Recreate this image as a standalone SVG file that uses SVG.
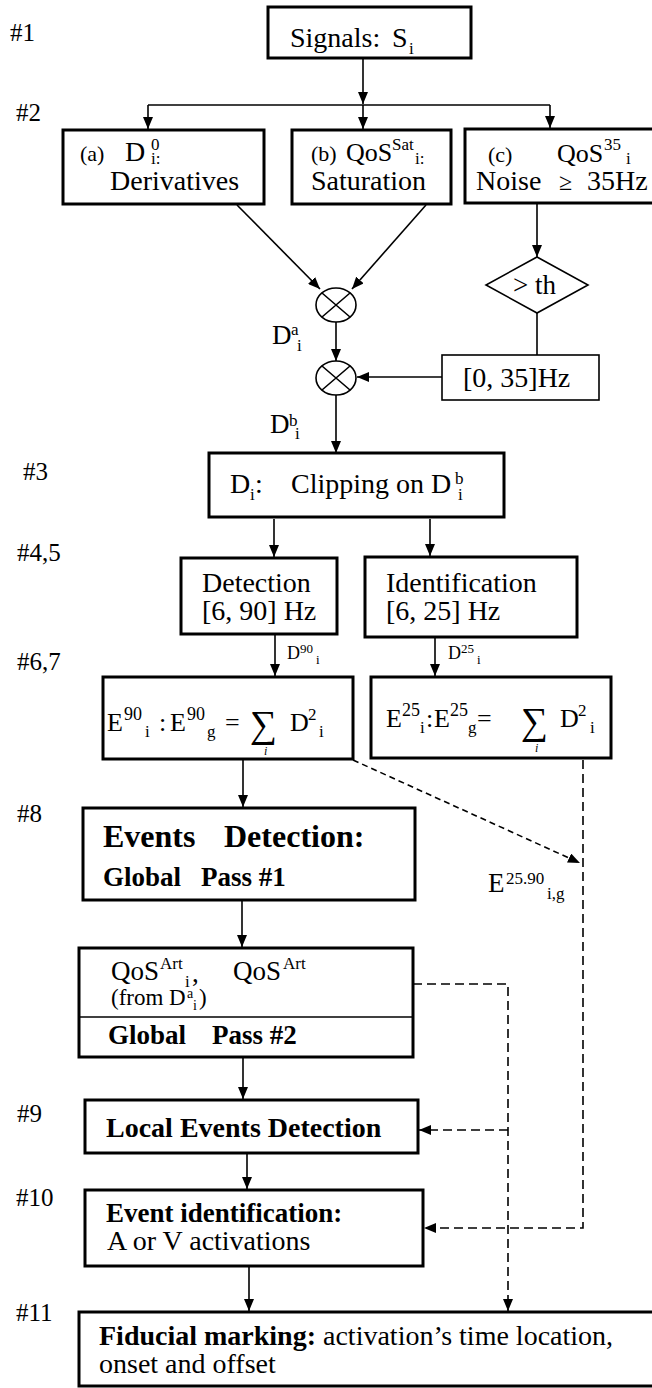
<svg xmlns="http://www.w3.org/2000/svg" width="652" height="1388" viewBox="0 0 652 1388">
<style>
text{font-family:"Liberation Serif","Times New Roman",serif;fill:#000}
.t{font-size:28px}
.lbl{font-size:25px}
.b{font-weight:bold}
.sm{font-size:17px}
.xs{font-size:13px}
.eq{font-size:26px}
.box{fill:#fff;stroke:#000;stroke-width:3}
.thin{fill:#fff;stroke:#000;stroke-width:1.6}
.ln{fill:none;stroke:#000;stroke-width:1.6}
.dash{fill:none;stroke:#000;stroke-width:1.6;stroke-dasharray:9 5}
.dash2{fill:none;stroke:#000;stroke-width:1.6;stroke-dasharray:6 4}
</style>
<defs>
<marker id="ah" viewBox="0 0 12 10" refX="12" refY="5" markerWidth="12" markerHeight="10" markerUnits="userSpaceOnUse" orient="auto"><path d="M0,0 L12,5 L0,10 z" fill="#000"/></marker>
</defs>
<rect width="652" height="1388" fill="#fff"/>

<g id="step-labels" class="lbl">
<text x="10" y="41">#1</text>
<text x="16" y="121">#2</text>
<text x="23" y="480">#3</text>
<text x="17" y="561">#4,5</text>
<text x="17" y="670">#6,7</text>
<text x="17" y="822">#8</text>
<text x="17" y="1122">#9</text>
<text x="16" y="1206">#10</text>
<text x="16" y="1321">#11</text>
</g>

<g id="connectors">
<path class="ln" d="M363,58 V104" marker-end="url(#ah)"/>
<path class="ln" d="M148,105 H550"/>
<path class="ln" d="M148,105 V129" marker-end="url(#ah)"/>
<path class="ln" d="M363,105 V129" marker-end="url(#ah)"/>
<path class="ln" d="M550,105 V128" marker-end="url(#ah)"/>
<path class="ln" d="M237,205 L320,289" marker-end="url(#ah)"/>
<path class="ln" d="M426,205 L352,289" marker-end="url(#ah)"/>
<path class="ln" d="M336,322 V361" marker-end="url(#ah)"/>
<path class="ln" d="M442,377 H357" marker-end="url(#ah)"/>
<path class="ln" d="M336,395 V453" marker-end="url(#ah)"/>
<path class="ln" d="M537,204 V257" marker-end="url(#ah)"/>
<path class="ln" d="M537,313 V355"/>
<path class="ln" d="M274,519 V557" marker-end="url(#ah)"/>
<path class="ln" d="M430,519 V556" marker-end="url(#ah)"/>
<path class="ln" d="M275,635 V676" marker-end="url(#ah)"/>
<path class="ln" d="M435,638 V676" marker-end="url(#ah)"/>
<path class="ln" d="M243,760 V807" marker-end="url(#ah)"/>
<path class="dash2" d="M353,760 L580,863" marker-end="url(#ah)"/>
<path class="dash" d="M583,760 V1228 H424" marker-end="url(#ah)"/>
<path class="ln" d="M242,901 V947" marker-end="url(#ah)"/>
<path class="dash" d="M413,984 H508 V1311" marker-end="url(#ah)"/>
<path class="dash" d="M508,1130 H419" marker-end="url(#ah)"/>
<path class="ln" d="M243,1058 V1099" marker-end="url(#ah)"/>
<path class="ln" d="M247,1154 V1189" marker-end="url(#ah)"/>
<path class="ln" d="M249,1267 V1311" marker-end="url(#ah)"/>
</g>

<g id="edge-labels">
<text x="272" y="344" style="font-size:27px">D<tspan class="sm" x="291" y="335">a</tspan><tspan class="sm" x="297" y="351">i</tspan></text>
<text x="270" y="433" style="font-size:27px">D<tspan class="sm" x="289" y="426">b</tspan><tspan class="sm" x="295" y="439">i</tspan></text>
<text x="287" y="659" style="font-size:18px">D<tspan class="xs" x="300" y="653">90</tspan><tspan class="xs" x="316" y="664">i</tspan></text>
<text x="448" y="659" style="font-size:18px">D<tspan class="xs" x="461" y="653">25</tspan><tspan class="xs" x="477" y="664">i</tspan></text>
<text x="488" y="892" style="font-size:27px">E<tspan class="sm" x="506" y="884">25.90</tspan><tspan class="sm" x="547" y="899">i,g</tspan></text>
</g>

<g id="n-signals">
<rect class="box" x="268" y="7" width="203" height="51"/>
<text class="t" x="290" y="47">Signals:<tspan x="392">S</tspan><tspan class="sm" x="409" y="54">i</tspan></text>
</g>

<g id="n-derivatives">
<rect class="box" x="63" y="130" width="201" height="74"/>
<text x="80" y="161" style="font-size:22px">(a)</text>
<text class="t" x="125" y="161">D<tspan class="sm" x="151" y="150">0</tspan><tspan class="sm" x="151" y="164">i:</tspan></text>
<text class="t" x="110" y="190">Derivatives</text>
</g>

<g id="n-saturation">
<rect class="box" x="292" y="130" width="159" height="74"/>
<text x="311" y="161" style="font-size:22px">(b)</text>
<text x="346" y="161" style="font-size:26px">QoS<tspan class="sm" x="392" y="150">Sat</tspan><tspan class="sm" x="415" y="164">i:</tspan></text>
<text class="t" x="311" y="190">Saturation</text>
</g>

<g id="n-noise">
<rect class="box" x="465" y="129" width="200" height="74"/>
<text x="488" y="162" style="font-size:22px">(c)</text>
<text x="557" y="162" style="font-size:26px">QoS<tspan class="sm" x="604" y="150">35</tspan><tspan class="sm" x="626" y="164">i</tspan></text>
<text class="t" x="476" y="190">Noise<tspan x="559" style="font-size:24px">≥</tspan><tspan x="587">35Hz</tspan></text>
</g>

<g id="n-mult1">
<ellipse cx="336" cy="305" rx="20" ry="17" fill="#fff" stroke="#000" stroke-width="1.6"/>
<path class="ln" d="M322,293 L350,317 M350,293 L322,317"/>
</g>

<g id="n-mult2">
<ellipse cx="336" cy="378" rx="20" ry="17" fill="#fff" stroke="#000" stroke-width="1.6"/>
<path class="ln" d="M322,366 L350,390 M350,366 L322,390"/>
</g>

<g id="n-threshold">
<polygon class="thin" points="537,257 588,285 537,313 486,285"/>
<text x="513" y="294" style="font-size:27px">&gt; th</text>
</g>

<g id="n-lowpass">
<rect class="thin" x="442" y="355" width="157" height="45"/>
<text class="t" x="463" y="387">[0, 35]Hz</text>
</g>

<g id="n-clipping">
<rect class="box" x="209" y="453" width="295" height="64"/>
<text class="t" x="230" y="493">D<tspan class="sm" x="250" y="500">i</tspan><tspan x="255" y="493">:</tspan><tspan x="291">Clipping on D</tspan><tspan class="sm" x="455" y="484">b</tspan><tspan class="sm" x="458" y="500">i</tspan></text>
</g>

<g id="n-detection">
<rect class="box" x="181" y="558" width="156" height="76"/>
<text class="t" x="202" y="592">Detection</text>
<text class="t" x="202" y="620">[6, 90] Hz</text>
</g>

<g id="n-identification">
<rect class="box" x="365" y="557" width="212" height="80"/>
<text class="t" x="386" y="592">Identification</text>
<text class="t" x="386" y="620">[6, 25] Hz</text>
</g>

<g id="n-energy90">
<rect class="box" x="103" y="677" width="250" height="82"/>
<text class="eq" x="107" y="731">E<tspan x="124" y="720" style="font-size:18px">90</tspan><tspan class="sm" x="145" y="737">i</tspan><tspan x="159" y="731">:</tspan><tspan x="170" y="731">E</tspan><tspan x="187" y="720" style="font-size:18px">90</tspan><tspan class="sm" x="207" y="737">g</tspan><tspan x="225" y="731">=</tspan><tspan x="250" y="737" style="font-size:38px">∑</tspan><tspan x="290" y="731">D</tspan><tspan class="sm" x="308" y="720">2</tspan><tspan class="sm" x="319" y="737">i</tspan></text>
<text x="264" y="755" style="font-size:12px;font-style:italic">i</text>
</g>

<g id="n-energy25">
<rect class="box" x="371" y="677" width="240" height="81"/>
<text class="eq" x="386" y="727">E<tspan x="402" y="716" style="font-size:18px">25</tspan><tspan class="sm" x="420" y="733">i</tspan><tspan x="426" y="727">:</tspan><tspan x="434" y="727">E</tspan><tspan x="450" y="716" style="font-size:18px">25</tspan><tspan class="sm" x="468" y="733">g</tspan><tspan x="477" y="727">=</tspan><tspan x="521" y="734" style="font-size:38px">∑</tspan><tspan x="560" y="727">D</tspan><tspan class="sm" x="578" y="716">2</tspan><tspan class="sm" x="590" y="733">i</tspan></text>
<text x="535" y="752" style="font-size:12px;font-style:italic">i</text>
</g>

<g id="n-events-detection">
<rect class="box" x="83" y="808" width="332" height="92"/>
<text class="b" x="103" y="847" style="font-size:32px">Events<tspan x="224">Detection:</tspan></text>
<text class="b" x="103" y="886" style="font-size:27px">Global<tspan x="201">Pass #1</tspan></text>
</g>

<g id="n-global-pass2">
<rect class="box" x="79" y="948" width="334" height="109"/>
<path class="ln" d="M79,1017 H413"/>
<text x="111" y="980" style="font-size:27px">QoS<tspan class="sm" x="160" y="969">Art</tspan><tspan class="sm" x="185" y="987">i</tspan><tspan x="192" y="982">,</tspan><tspan x="233" y="980">QoS</tspan><tspan class="sm" x="283" y="969">Art</tspan></text>
<text x="111" y="1005" style="font-size:23px">(from D<tspan x="187" y="998" style="font-size:14px">a</tspan><tspan x="193" y="1010" style="font-size:14px">i</tspan><tspan x="199" y="1005">)</tspan></text>
<text class="b" x="108" y="1044" style="font-size:27px">Global<tspan x="212">Pass #2</tspan></text>
</g>

<g id="n-local-events">
<rect class="box" x="85" y="1100" width="333" height="53"/>
<text class="b" x="106" y="1137" style="font-size:28px">Local Events Detection</text>
</g>

<g id="n-event-identification">
<rect class="box" x="85" y="1190" width="338" height="76"/>
<text class="b" x="106" y="1222" style="font-size:27px">Event identification:</text>
<text class="t" x="107" y="1250">A or V activations</text>
</g>

<g id="n-fiducial">
<rect class="box" x="79" y="1312" width="590" height="74"/>
<text class="t" x="99" y="1345"><tspan class="b">Fiducial marking:</tspan> activation’s time location,</text>
<text class="t" x="99" y="1373">onset and offset</text>
</g>
</svg>
